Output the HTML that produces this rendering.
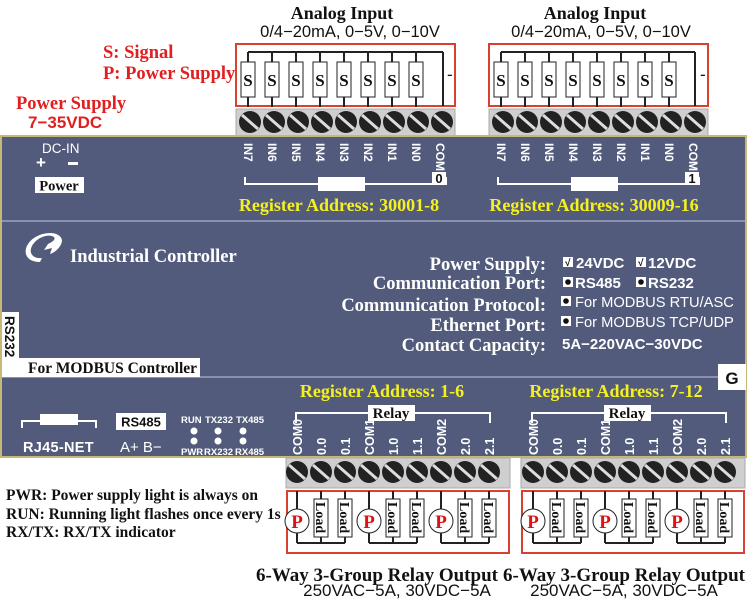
<!DOCTYPE html>
<html><head><meta charset="utf-8"><style>
html,body{margin:0;padding:0;background:#fff;}
svg{display:block;}
.ser{font-family:"Liberation Serif",serif;font-weight:bold;}
.san{font-family:"Liberation Sans",sans-serif;}
</style></head><body>
<svg width="749" height="599" viewBox="0 0 749 599" xmlns="http://www.w3.org/2000/svg">
<defs>
<g id="scr"><circle r="11" fill="#222"/><line x1="-8" y1="-7" x2="8" y2="7" stroke="#ddd" stroke-width="3"/></g>
<g id="sbox"><line x1="0" y1="-10" x2="0" y2="45" stroke="#222" stroke-width="2"/><rect x="-7" y="0" width="14" height="35" fill="#fff" stroke="#222" stroke-width="1"/><text x="0" y="24" text-anchor="middle" class="ser" font-size="17" fill="#111">S</text></g>
<g id="load"><line x1="0" y1="0" x2="0" y2="52" stroke="#222" stroke-width="2"/><rect x="-7" y="8" width="14" height="38" fill="#fff" stroke="#222" stroke-width="1"/><text transform="translate(-5,11) rotate(90)" class="ser" font-size="14" fill="#111">Load</text></g>
<g id="pc"><line x1="0" y1="0" x2="0" y2="52" stroke="#222" stroke-width="2"/><circle cx="0" cy="30" r="12" fill="#fff" stroke="#222" stroke-width="1"/><text x="0" y="37" text-anchor="middle" class="ser" font-size="19" fill="#d11">P</text><line x1="0" y1="52" x2="48" y2="52" stroke="#222" stroke-width="2"/></g>
</defs>

<text x="342" y="19" text-anchor="middle" class="ser" font-size="18" fill="#111">Analog Input</text>
<text x="350" y="37" text-anchor="middle" class="san" font-size="16.5" fill="#111">0/4−20mA, 0−5V, 0−10V</text>
<text x="595" y="19" text-anchor="middle" class="ser" font-size="18" fill="#111">Analog Input</text>
<text x="601" y="37" text-anchor="middle" class="san" font-size="16.5" fill="#111">0/4−20mA, 0−5V, 0−10V</text>
<text x="103" y="58" class="ser" font-size="18.5" fill="#e02020">S: Signal</text>
<text x="103" y="79" class="ser" font-size="18.5" fill="#e02020">P: Power Supply</text>
<text x="16" y="109" class="ser" font-size="18.5" fill="#e02020">Power Supply</text>
<text x="28" y="128" class="san" font-size="17" font-weight="bold" fill="#e02020">7−35VDC</text>

<rect x="236" y="44" width="219" height="62" fill="#fff" stroke="#d84030" stroke-width="2"/>
<line x1="248" y1="52" x2="443" y2="52" stroke="#222" stroke-width="2"/>
<line x1="443" y1="52" x2="443" y2="106" stroke="#222" stroke-width="2"/>
<text x="447" y="80" class="san" font-size="17" fill="#111">-</text>
<use href="#sbox" x="248" y="62"/><use href="#sbox" x="272" y="62"/><use href="#sbox" x="296" y="62"/><use href="#sbox" x="320" y="62"/><use href="#sbox" x="344" y="62"/><use href="#sbox" x="368" y="62"/><use href="#sbox" x="392" y="62"/><use href="#sbox" x="416" y="62"/>
<rect x="236" y="109" width="219" height="27" fill="#cfcfcf" stroke="#aaa"/>
<g transform="translate(0,122)"><use href="#scr" x="250"/><use href="#scr" x="274"/><use href="#scr" x="298"/><use href="#scr" x="322"/><use href="#scr" x="346"/><use href="#scr" x="370"/><use href="#scr" x="394"/><use href="#scr" x="418"/><use href="#scr" x="442"/></g>

<rect x="489" y="44" width="219" height="62" fill="#fff" stroke="#d84030" stroke-width="2"/>
<line x1="501" y1="52" x2="695" y2="52" stroke="#222" stroke-width="2"/>
<line x1="695" y1="52" x2="695" y2="106" stroke="#222" stroke-width="2"/>
<text x="700" y="80" class="san" font-size="17" fill="#111">-</text>
<use href="#sbox" x="501" y="62"/><use href="#sbox" x="525" y="62"/><use href="#sbox" x="549" y="62"/><use href="#sbox" x="573" y="62"/><use href="#sbox" x="597" y="62"/><use href="#sbox" x="621" y="62"/><use href="#sbox" x="645" y="62"/><use href="#sbox" x="669" y="62"/>
<rect x="489" y="109" width="219" height="27" fill="#cfcfcf" stroke="#aaa"/>
<g transform="translate(0,122)"><use href="#scr" x="503"/><use href="#scr" x="527"/><use href="#scr" x="551"/><use href="#scr" x="575"/><use href="#scr" x="599"/><use href="#scr" x="623"/><use href="#scr" x="647"/><use href="#scr" x="671"/><use href="#scr" x="695"/></g>

<rect x="1" y="136" width="745" height="321" fill="#525b7b" stroke="#c8b878" stroke-width="2"/>
<line x1="2" y1="221" x2="745" y2="221" stroke="#9aa3c0" stroke-width="1.5"/>
<line x1="2" y1="377" x2="745" y2="377" stroke="#9aa3c0" stroke-width="1.5"/>

<text x="42" y="153" class="san" font-size="13.5" fill="#fff">DC-IN</text>
<text x="36" y="168" class="san" font-size="17" font-weight="bold" fill="#fff">+</text>
<rect x="68" y="162" width="10" height="3" fill="#fff"/>
<rect x="35" y="177" width="49" height="16" fill="#fff"/>
<text x="59" y="190.5" text-anchor="middle" class="ser" font-size="14.5" fill="#111">Power</text>

<g class="san" font-size="12" font-weight="bold" fill="#fff">
<text transform="translate(244,143) rotate(90)">IN7</text><text transform="translate(268,143) rotate(90)">IN6</text><text transform="translate(292,143) rotate(90)">IN5</text><text transform="translate(316,143) rotate(90)">IN4</text><text transform="translate(340,143) rotate(90)">IN3</text><text transform="translate(364,143) rotate(90)">IN2</text><text transform="translate(388,143) rotate(90)">IN1</text><text transform="translate(412,143) rotate(90)">IN0</text><text transform="translate(436,143) rotate(90)">COM</text>
<text transform="translate(497,143) rotate(90)">IN7</text><text transform="translate(521,143) rotate(90)">IN6</text><text transform="translate(545,143) rotate(90)">IN5</text><text transform="translate(569,143) rotate(90)">IN4</text><text transform="translate(593,143) rotate(90)">IN3</text><text transform="translate(617,143) rotate(90)">IN2</text><text transform="translate(641,143) rotate(90)">IN1</text><text transform="translate(665,143) rotate(90)">IN0</text><text transform="translate(689,143) rotate(90)">COM</text>
</g>
<polyline points="245,177 245,184 446,184 446,177" fill="none" stroke="#fff" stroke-width="2"/>
<rect x="318" y="177" width="47" height="14" fill="#fff"/>
<rect x="432" y="172" width="14" height="13" fill="#fff"/><text x="439" y="183" text-anchor="middle" class="san" font-size="13" font-weight="bold" fill="#111">0</text>
<polyline points="498,177 498,184 699,184 699,177" fill="none" stroke="#fff" stroke-width="2"/>
<rect x="571" y="177" width="47" height="14" fill="#fff"/>
<rect x="685" y="172" width="14" height="13" fill="#fff"/><text x="692" y="183" text-anchor="middle" class="san" font-size="13" font-weight="bold" fill="#111">1</text>
<text x="339" y="211" text-anchor="middle" class="ser" font-size="18" fill="#f5f020">Register Address: 30001-8</text>
<text x="594" y="211" text-anchor="middle" class="ser" font-size="18" fill="#f5f020">Register Address: 30009-16</text>

<path d="M40,262 C22,262 22,246 34,238 C44,231 60,231 62,240 C62,246 56,252 50,254 L52,248 L44,250 L48,244 C52,242 56,240 54,237 C48,233 36,238 32,246 C28,254 34,259 42,258 Z" fill="#fff"/>
<text x="70" y="262" class="ser" font-size="18.5" fill="#fff">Industrial Controller</text>

<g class="ser" font-size="18.5" fill="#fff" text-anchor="end">
<text x="546" y="270">Power Supply:</text>
<text x="546" y="289">Communication Port:</text>
<text x="546" y="311">Communication Protocol:</text>
<text x="546" y="331">Ethernet Port:</text>
<text x="546" y="351">Contact Capacity:</text>
</g>
<g class="san" font-size="15" font-weight="bold" fill="#fff">
<rect x="563" y="257" width="10" height="10" fill="#fff"/><text x="565" y="266" font-size="10" fill="#111">√</text><text x="576" y="268">24VDC</text>
<rect x="636" y="257" width="10" height="10" fill="#fff"/><text x="638" y="266" font-size="10" fill="#111">√</text><text x="648" y="268">12VDC</text>
<rect x="563" y="277" width="10" height="10" fill="#fff"/><circle cx="568" cy="282" r="2.8" fill="#111"/><text x="575" y="288">RS485</text>
<rect x="636" y="277" width="10" height="10" fill="#fff"/><circle cx="641" cy="282" r="2.8" fill="#111"/><text x="648" y="288">RS232</text>
<rect x="561" y="296" width="10" height="10" fill="#fff"/><circle cx="566" cy="301" r="2.8" fill="#111"/><text x="575" y="307" font-weight="normal" font-size="14.7">For MODBUS RTU/ASC</text>
<rect x="561" y="316" width="10" height="10" fill="#fff"/><circle cx="566" cy="321" r="2.8" fill="#111"/><text x="575" y="327" font-weight="normal" font-size="14.7">For MODBUS TCP/UDP</text>
<text x="562" y="349">5A−220VAC−30VDC</text>
</g>

<rect x="2" y="312" width="17" height="65" fill="#fff"/>
<text transform="translate(5,316) rotate(90)" class="san" font-size="13.5" font-weight="bold" fill="#111">RS232</text>
<rect x="19" y="358" width="181" height="19" fill="#fff"/>
<text x="28" y="373" class="ser" font-size="15.5" fill="#111">For MODBUS Controller</text>
<rect x="718" y="364" width="28" height="26" fill="#fff"/>
<text x="732" y="384" text-anchor="middle" class="san" font-size="17" font-weight="bold" fill="#111">G</text>

<polyline points="22,428 22,421 96,421 96,428" fill="none" stroke="#fff" stroke-width="2"/>
<rect x="40" y="414" width="38" height="11" fill="#fff"/>
<text x="23" y="452" class="san" font-size="14.5" font-weight="bold" fill="#fff" letter-spacing="0.3">RJ45-NET</text>
<rect x="116" y="413" width="50" height="17" fill="#fff"/>
<text x="141" y="426.5" text-anchor="middle" class="san" font-size="13" font-weight="bold" fill="#111">RS485</text>
<text x="120" y="452" class="san" font-size="15" fill="#fff">A+ B−</text>
<g class="san" font-size="9.5" font-weight="bold" fill="#fff">
<text x="181" y="423">RUN</text><text x="205" y="423">TX232</text><text x="236" y="423">TX485</text>
<text x="181" y="455">PWR</text><text x="204" y="455">RX232</text><text x="235" y="455">RX485</text>
<circle cx="194" cy="431" r="3.5"/><circle cx="218" cy="431" r="3.5"/><circle cx="243" cy="431" r="3.5"/>
<circle cx="194" cy="441" r="3.5"/><circle cx="218" cy="441" r="3.5"/><circle cx="243" cy="441" r="3.5"/>
</g>

<text x="382" y="397" text-anchor="middle" class="ser" font-size="18" fill="#f5f020">Register Address: 1-6</text>
<text x="616" y="397" text-anchor="middle" class="ser" font-size="18" fill="#f5f020">Register Address: 7-12</text>
<polyline points="296,423 296,413 490,413 490,423" fill="none" stroke="#fff" stroke-width="2"/>
<rect x="368" y="405" width="47" height="16" fill="#fff"/><text x="391" y="418" text-anchor="middle" class="ser" font-size="15" fill="#111">Relay</text>
<polyline points="532,423 532,413 726,413 726,423" fill="none" stroke="#fff" stroke-width="2"/>
<rect x="604" y="405" width="47" height="16" fill="#fff"/><text x="627" y="418" text-anchor="middle" class="ser" font-size="15" fill="#111">Relay</text>
<g class="san" font-size="12.5" font-weight="bold" fill="#fff">
<text transform="translate(302,455) rotate(-90)">COM0</text><text transform="translate(326,455) rotate(-90)">0.0</text><text transform="translate(350,455) rotate(-90)">0.1</text><text transform="translate(374,455) rotate(-90)">COM1</text><text transform="translate(398,455) rotate(-90)">1.0</text><text transform="translate(422,455) rotate(-90)">1.1</text><text transform="translate(446,455) rotate(-90)">COM2</text><text transform="translate(470,455) rotate(-90)">2.0</text><text transform="translate(494,455) rotate(-90)">2.1</text>
<text transform="translate(538,455) rotate(-90)">COM0</text><text transform="translate(562,455) rotate(-90)">0.0</text><text transform="translate(586,455) rotate(-90)">0.1</text><text transform="translate(610,455) rotate(-90)">COM1</text><text transform="translate(634,455) rotate(-90)">1.0</text><text transform="translate(658,455) rotate(-90)">1.1</text><text transform="translate(682,455) rotate(-90)">COM2</text><text transform="translate(706,455) rotate(-90)">2.0</text><text transform="translate(730,455) rotate(-90)">2.1</text>
</g>

<rect x="286" y="458" width="224" height="30" fill="#cfcfcf" stroke="#aaa"/>
<g transform="translate(0,472)"><use href="#scr" x="297"/><use href="#scr" x="321"/><use href="#scr" x="345"/><use href="#scr" x="369"/><use href="#scr" x="393"/><use href="#scr" x="417"/><use href="#scr" x="441"/><use href="#scr" x="465"/><use href="#scr" x="489"/></g>
<rect x="521" y="458" width="224" height="30" fill="#cfcfcf" stroke="#aaa"/>
<g transform="translate(0,472)"><use href="#scr" x="533"/><use href="#scr" x="557"/><use href="#scr" x="581"/><use href="#scr" x="605"/><use href="#scr" x="629"/><use href="#scr" x="653"/><use href="#scr" x="677"/><use href="#scr" x="701"/><use href="#scr" x="725"/></g>

<rect x="287" y="491" width="222" height="62" fill="#fff" stroke="#d84030" stroke-width="2"/>
<rect x="522" y="491" width="222" height="62" fill="#fff" stroke="#d84030" stroke-width="2"/>
<g transform="translate(0,491)">
<use href="#pc" x="297"/><use href="#load" x="321"/><use href="#load" x="345"/>
<use href="#pc" x="369"/><use href="#load" x="393"/><use href="#load" x="417"/>
<use href="#pc" x="441"/><use href="#load" x="465"/><use href="#load" x="489"/>
<use href="#pc" x="533"/><use href="#load" x="557"/><use href="#load" x="581"/>
<use href="#pc" x="605"/><use href="#load" x="629"/><use href="#load" x="653"/>
<use href="#pc" x="677"/><use href="#load" x="701"/><use href="#load" x="725"/>
</g>

<g class="ser" font-size="15.5" fill="#111">
<text x="6" y="500">PWR: Power supply light is always on</text>
<text x="6" y="519">RUN: Running light flashes once every 1s</text>
<text x="6" y="537">RX/TX: RX/TX indicator</text>
</g>
<text x="377" y="581" text-anchor="middle" class="ser" font-size="19" fill="#111">6-Way 3-Group Relay Output</text>
<text x="397" y="596" text-anchor="middle" class="san" font-size="17" fill="#111">250VAC−5A, 30VDC−5A</text>
<text x="624" y="581" text-anchor="middle" class="ser" font-size="19" fill="#111">6-Way 3-Group Relay Output</text>
<text x="624" y="596" text-anchor="middle" class="san" font-size="17" fill="#111">250VAC−5A, 30VDC−5A</text>
</svg>
</body></html>
